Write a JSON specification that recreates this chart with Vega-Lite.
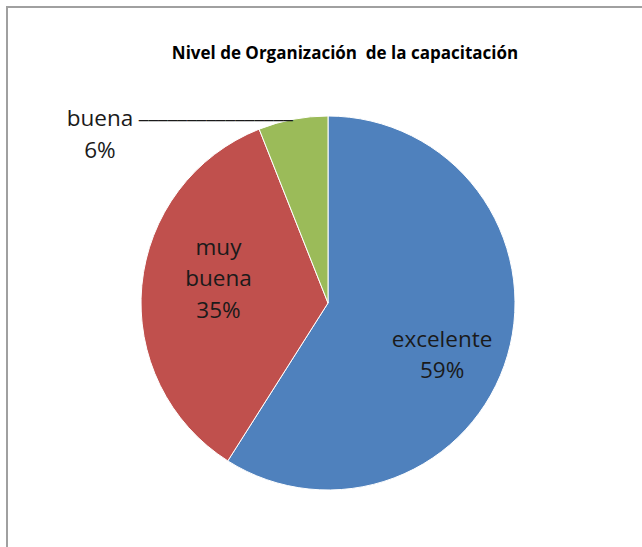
{
  "$schema": "https://vega.github.io/schema/vega-lite/v6.json",
  "width": 642,
  "height": 592,
  "autosize": "none",
  "padding": {"left": 7, "top": 7, "right": 0, "bottom": 0},
  "background": "white",
  "view": {"stroke": "#a0a0a0", "strokeWidth": 2},
  "config": {"font": "Open Sans"},
  "title": {
    "text": "Nivel de Organización \u00a0de la capacitación",
    "font": "Open Sans",
    "fontSize": 17,
    "fontWeight": "bold",
    "color": "#000000",
    "anchor": "middle",
    "baseline": "alphabetic",
    "frame": "group",
    "offset": -69,
    "dx": 17
  },
  "data": {
    "values": [
      {"nivel": "excelente", "pct": 59, "etiqueta": "excelente\n59%"},
      {"nivel": "muy buena", "pct": 35, "etiqueta": "muy\nbuena\n35%"},
      {"nivel": "buena", "pct": 6, "etiqueta": "buena\n6%"}
    ]
  },
  "encoding": {
    "theta": {"field": "pct", "type": "quantitative", "stack": true},
    "order": {"field": "pct", "type": "quantitative", "sort": "descending"}
  },
  "layer": [
    {
      "mark": {"type": "arc", "outerRadius": 187, "stroke": "#ffffff", "strokeWidth": 1},
      "encoding": {
        "color": {
          "field": "nivel",
          "type": "nominal",
          "scale": {"domain": ["excelente", "muy buena", "buena"], "range": ["#4F81BD", "#C0504D", "#9BBB59"]},
          "legend": null
        }
      }
    },
    {
      "mark": {"type": "text", "fontSize": 22.5, "lineBreak": "\n", "lineHeight": 31, "color": "#1a1a1a", "dx": -5, "dy": 2},
      "encoding": {
        "radius": {"value": 124},
        "text": {"condition": {"test": "datum.nivel === 'excelente'", "field": "etiqueta"}, "value": ""}
      }
    },
    {
      "mark": {"type": "text", "fontSize": 22.5, "lineBreak": "\n", "lineHeight": 31.5, "color": "#1a1a1a", "dx": 0, "dy": -45},
      "encoding": {
        "radius": {"value": 110},
        "text": {"condition": {"test": "datum.nivel === 'muy buena'", "field": "etiqueta"}, "value": ""}
      }
    },
    {
      "mark": {"type": "text", "fontSize": 22.5, "lineBreak": "\n", "lineHeight": 32, "color": "#1a1a1a", "dx": -193, "dy": 0},
      "encoding": {
        "radius": {"value": 187},
        "text": {"condition": {"test": "datum.nivel === 'buena'", "field": "etiqueta"}, "value": ""}
      }
    },
    {
      "mark": {"type": "text", "fontSize": 22, "align": "right", "baseline": "alphabetic", "color": "#1a1a1a", "dx": 0, "dy": -1},
      "encoding": {
        "radius": {"value": 187},
        "text": {"condition": {"test": "datum.nivel === 'buena'", "value": "________________"}, "value": ""}
      }
    }
  ]
}
